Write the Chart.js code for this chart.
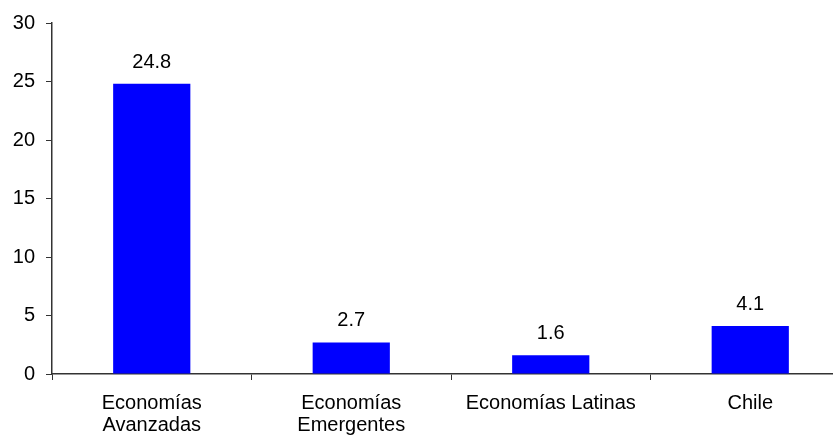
<!DOCTYPE html>
<html>
<head>
<meta charset="utf-8">
<script src="https://cdn.jsdelivr.net/npm/chart.js@4/dist/chart.umd.min.js"></script>
<style>
    html, body { margin: 0; padding: 0; background: #fff; overflow: hidden; }
    #wrap { width: 833px; height: 442px; overflow: hidden; }
</style>
</head>
<body>
<div id="wrap">
    <canvas id="barChart" width="850" height="442"></canvas>
</div>
<script>
// Datos del gráfico
const categories = [['Economías', 'Avanzadas'], ['Economías', 'Emergentes'], 'Economías Latinas', 'Chile'];
const values = [24.8, 2.7, 1.6, 4.1];
const yTicks = [0, 5, 10, 15, 20, 25, 30];

const FONT = 'Liberation Sans, Arial, sans-serif';

// Etiquetas con el valor sobre cada barra
const valueLabels = {
    id: 'valueLabels',
    afterDatasetsDraw(chart) {
        const ctx = chart.ctx;
        const meta = chart.getDatasetMeta(0);
        ctx.save();
        ctx.font = '20px ' + FONT;
        ctx.fillStyle = '#000';
        ctx.textAlign = 'center';
        ctx.textBaseline = 'alphabetic';
        meta.data.forEach(function(bar, i) {
            ctx.fillText(values[i].toFixed(1), bar.x, bar.y - 16);
        });
        ctx.restore();
    }
};

new Chart(document.getElementById('barChart').getContext('2d'), {
    type: 'bar',
    data: {
        labels: categories,
        datasets: [{
            data: values,
            backgroundColor: '#0000FF',
            borderWidth: 0,
            barPercentage: 0.387,
            categoryPercentage: 1
        }]
    },
    options: {
        responsive: false,
        animation: false,
        devicePixelRatio: 1,
        layout: { padding: { top: 21, right: 0, left: 0, bottom: 0 } },
        plugins: {
            legend: { display: false },
            tooltip: { enabled: false }
        },
        scales: {
            x: {
                afterFit: function(scale) { scale.height = 68; },
                grid: {
                    offset: true,
                    drawOnChartArea: false,
                    drawTicks: true,
                    tickLength: 6,
                    color: '#333'
                },
                border: { display: true, color: '#333', width: 1.5 },
                ticks: {
                    color: '#000',
                    padding: 12,
                    maxRotation: 0,
                    autoSkip: false,
                    font: { family: FONT, size: 20, lineHeight: 1.1 }
                }
            },
            y: {
                min: 0,
                max: 30,
                afterFit: function(scale) { scale.width = 52; },
                afterBuildTicks: function(scale) {
                    scale.ticks = yTicks.map(v => ({ value: v }));
                },
                grid: {
                    drawOnChartArea: false,
                    drawTicks: true,
                    tickLength: 6,
                    color: '#333'
                },
                border: { display: true, color: '#333', width: 1.5 },
                ticks: {
                    color: '#000',
                    padding: 11,
                    font: { family: FONT, size: 20 }
                }
            }
        }
    },
    plugins: [valueLabels]
});
</script>
</body>
</html>
